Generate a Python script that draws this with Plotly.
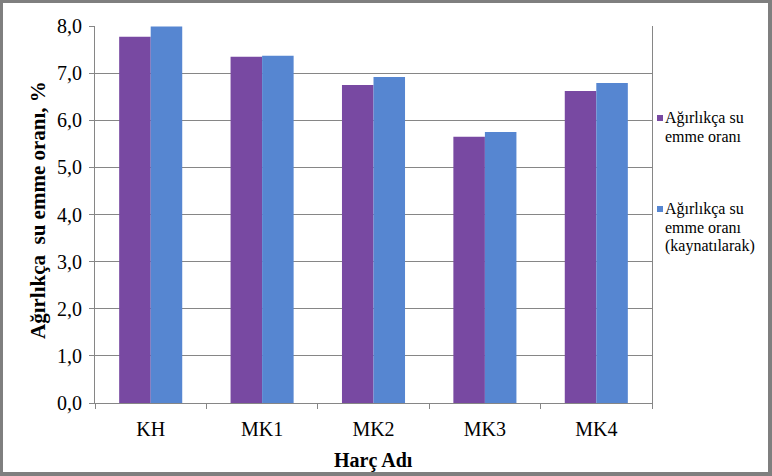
import plotly.graph_objects as go

categories = ["KH", "MK1", "MK2", "MK3", "MK4"]
series1_lines = ["Ağırlıkça su", "emme oranı"]
series2_lines = ["Ağırlıkça su", "emme oranı", "(kaynatılarak)"]
series1 = [7.77, 7.35, 6.75, 5.65, 6.62]
series2 = [7.99, 7.37, 6.92, 5.75, 6.79]
y_ticks = [0, 1, 2, 3, 4, 5, 6, 7, 8]

C1 = "#7849A2"
C2 = "#5686D1"
GRID = "#868686"
FONT = "Liberation Serif"

W, H = 772, 476
L, R, T, B = 95, 652, 26, 403


def px(x):
    return (x - L) / (R - L)


def py(y):
    return (B - y) / (B - T)


fig = go.Figure()
fig.add_trace(go.Bar(x=categories, y=series1, marker_color=C1, marker_line_width=0,
                     name=" ".join(series1_lines), showlegend=False))
fig.add_trace(go.Bar(x=categories, y=series2, marker_color=C2, marker_line_width=0,
                     name=" ".join(series2_lines), showlegend=False))

shapes = []
# outer frame
for x0, y0, x1, y1 in [(0, 0, W, 3), (0, 0, 3, H), (W - 4, 0, W, H), (0, H - 4, W, H)]:
    shapes.append(dict(type="rect", xref="paper", yref="paper",
                       x0=px(x0), x1=px(x1), y0=py(y0), y1=py(y1),
                       fillcolor="#7f7f7f", line=dict(width=0), layer="above"))

annotations = [
    dict(text="<b>Harç Adı</b>", xref="paper", yref="paper", x=0.5, y=py(460),
         xanchor="center", yanchor="middle", showarrow=False,
         font=dict(family=FONT, size=20, color="black")),
    dict(text="<b>Ağırlıkça\u00a0 su emme oranı, %</b>", xref="paper", yref="paper",
         x=px(38), y=py(210), textangle=-90, xanchor="center", yanchor="middle",
         showarrow=False, font=dict(family=FONT, size=21, color="black")),
]

# manual legend
for lines, col, y0 in [(series1_lines, C1, 118), (series2_lines, C2, 209)]:
    shapes.append(dict(type="rect", xref="paper", yref="paper",
                       x0=px(657), x1=px(663), y0=py(y0 - 3), y1=py(y0 + 3),
                       fillcolor=col, line=dict(width=0)))
    for i, line in enumerate(lines):
        annotations.append(dict(text=line, xref="paper", yref="paper",
                                x=px(663), y=py(y0 + i * 18.5),
                                xanchor="left", yanchor="middle", align="left",
                                showarrow=False,
                                font=dict(family=FONT, size=16, color="black")))

fig.update_layout(
    width=W, height=H,
    margin=dict(l=L, r=W - R, t=T, b=H - B, pad=0),
    paper_bgcolor="white", plot_bgcolor="white",
    barmode="group", bargap=0.434, bargroupgap=0,
    separators=",.",
    showlegend=False,
    shapes=shapes, annotations=annotations,
    font=dict(family=FONT, color="black"),
)
fig.update_xaxes(
    type="category", showline=True, linecolor=GRID, linewidth=1,
    ticks="outside", tickson="boundaries", ticklen=5, tickcolor=GRID,
    tickfont=dict(family=FONT, size=20, color="black"),
    showgrid=False, ticklabelstandoff=8,
)
fig.update_yaxes(
    range=[0, 8], tickvals=y_ticks, tickformat=".1f",
    showline=True, linecolor=GRID, linewidth=1, mirror=True,
    ticks="outside", ticklen=5, tickcolor=GRID,
    showgrid=True, gridcolor=GRID, gridwidth=1, zeroline=False,
    tickfont=dict(family=FONT, size=20, color="black"),
    ticklabelstandoff=3,
)

fig.write_html("out.html")
